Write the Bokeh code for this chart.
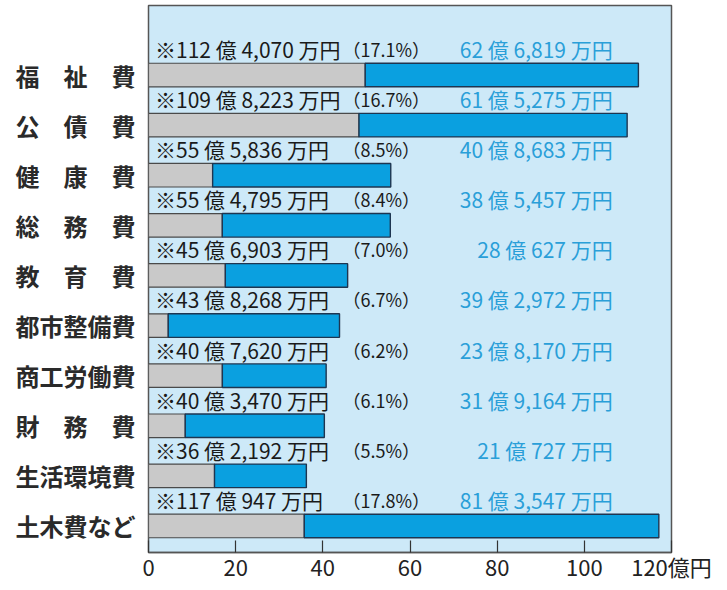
from bokeh.plotting import figure
from bokeh.models import Range1d, FixedTicker, ColumnDataSource
from bokeh.core.properties import value
from bokeh.embed import file_html
from bokeh.resources import INLINE

# ---- data (values in 万円) ----
categories = ["福　祉　費", "公　債　費", "健　康　費", "総　務　費", "教　育　費",
              "都市整備費", "商工労働費", "財　務　費", "生活環境費", "土木費など"]
total_man = [1124070, 1098223, 555836, 554795, 456903,
             438268, 407620, 403470, 362192, 1170947]
blue_man = [626819, 615275, 408683, 385457, 280627,
            392972, 238170, 319164, 210727, 813547]
pct_labels = ["17.1", "16.7", "8.5", "8.4", "7.0", "6.7", "6.2", "6.1", "5.5", "17.8"]
x_ticks = [0, 20, 40, 60, 80, 100, 120]

FONT = "Noto Sans CJK JP"


def fmt(v):
    oku, man = divmod(v, 10000)
    return f"{oku} 億 {man:,} 万円"


n = len(categories)
idx = list(range(n))
total = [t / 10000 for t in total_man]
blue = [b / 10000 for b in blue_man]
gray = [t - b for t, b in zip(total, blue)]

src = ColumnDataSource(dict(
    y=idx,
    gray=gray,
    total=total,
    ty=[i - 0.52 for i in idx],
    tot_txt=["※" + fmt(v) for v in total_man],
    pct_txt=["（" + s + "%）" for s in pct_labels],
    blue_txt=[fmt(v) for v in blue_man],
    zero=[0] * n,
))

p = figure(frame_width=523, frame_height=547,
           x_range=Range1d(0, 120), y_range=Range1d(9.529, -1.387),
           output_backend="svg", toolbar_location=None,
           min_border_left=148, min_border_right=54,
           min_border_top=5, min_border_bottom=30)

p.background_fill_color = "#cde9f8"
p.border_fill_color = "white"
p.outline_line_color = "#555555"
p.outline_line_width = 1.5
p.xgrid.grid_line_color = None
p.ygrid.grid_line_color = None

bh = 0.47
p.hbar(y="y", left="zero", right="gray", height=bh, source=src,
       fill_color="#c9c9c9", line_color="#4a4a4a", line_width=1.2)
p.hbar(y="y", left="gray", right="total", height=bh, source=src,
       fill_color="#0aa0e0", line_color="#1e3550", line_width=1.4)

p.text(x=1.5, y="ty", text="tot_txt", source=src,
       text_font=value(FONT), text_font_size="21px", text_color="#1a1a1a",
       text_baseline="alphabetic", text_align="left")
p.text(x=44.5, y="ty", text="pct_txt", source=src,
       text_font=value(FONT), text_font_size="18px", text_color="#1a1a1a",
       text_baseline="alphabetic", text_align="left")
p.text(x=106.5, y="ty", text="blue_txt", source=src,
       text_font=value(FONT), text_font_size="21px", text_color="#2a9fd8",
       text_baseline="alphabetic", text_align="right")

# x axis
xa = p.xaxis[0]
xa.ticker = FixedTicker(ticks=x_ticks)
xa.major_label_overrides = {120: "120億円"}
xa.major_tick_in = 12
xa.major_tick_out = 0
xa.minor_tick_in = 0
xa.minor_tick_out = 0
xa.minor_tick_line_color = None
xa.axis_line_color = "#555555"
xa.axis_line_width = 1.5
xa.major_tick_line_color = "#333333"
xa.major_tick_line_width = 1.2
xa.major_label_standoff = -3
xa.major_label_text_font = FONT
xa.major_label_text_font_size = "22px"
xa.major_label_text_color = "#222222"

# y axis
ya = p.yaxis[0]
ya.ticker = FixedTicker(ticks=idx)
ya.major_label_overrides = {i: c for i, c in zip(idx, categories)}
ya.axis_line_color = None
ya.major_tick_line_color = None
ya.minor_tick_line_color = None
ya.major_tick_out = 0
ya.minor_tick_out = 0
ya.major_label_standoff = 13
ya.major_label_text_font = FONT
ya.major_label_text_font_size = "24px"
ya.major_label_text_font_style = "bold"
ya.major_label_text_color = "#2a2a2a"

open("out.html", "w").write(file_html(p, INLINE))
